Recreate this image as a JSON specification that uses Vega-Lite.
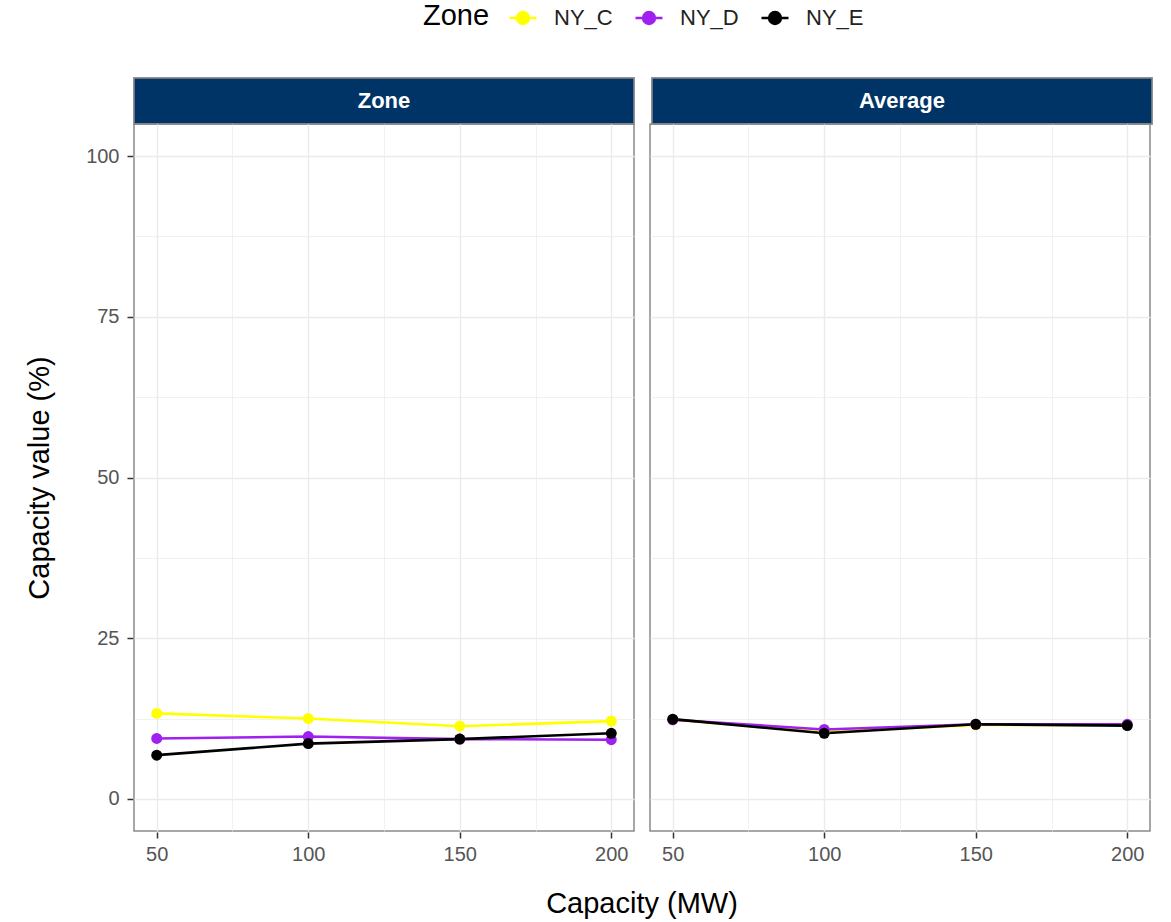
{
  "$schema": "https://vega.github.io/schema/vega-lite/v6.json",
  "background": "white",
  "padding": {"left": 25, "top": 3, "right": 20, "bottom": 0},
  "config": {
    "font": "Liberation Sans",
    "view": {"stroke": "#8a8a8a", "strokeWidth": 1.5},
    "axis": {
      "labelFont": "Liberation Sans",
      "labelFontSize": 20,
      "labelColor": "#555555",
      "tickColor": "#333333",
      "tickSize": 6,
      "tickWidth": 1.5,
      "domain": false,
      "gridColor": "#ebebeb",
      "titleFont": "Liberation Sans",
      "titleFontSize": 29,
      "titleFontWeight": "normal",
      "titleColor": "#000000"
    },
    "header": {"titleFont": "Liberation Sans", "titleFontSize": 29, "titleFontWeight": "normal", "titleColor": "#000000"}
  },
  "bounds": "flush",
  "spacing": 46,
  "vconcat": [
    {
      "data": {"values": [{"panel": "Zone"}, {"panel": "Average"}]},
      "facet": {"column": {"field": "panel", "type": "nominal", "sort": ["Zone", "Average"], "header": {"labels": false, "title": null}}},
      "spacing": 14,
      "resolve": {"scale": {"x": "independent"}},
      "spec": {
        "width": 500,
        "height": 46,
        "layer": [
          {
            "mark": {"type": "rect", "color": "#003466", "stroke": "#8a8a8a", "strokeWidth": 1.5},
            "encoding": {"x": {"field": "panel", "type": "nominal", "axis": null, "scale": {"paddingInner": 0, "paddingOuter": 0}}}
          },
          {
            "mark": {"type": "text", "color": "white", "fontSize": 22, "fontWeight": "bold", "font": "Liberation Sans"},
            "encoding": {"x": {"field": "panel", "type": "nominal", "axis": null}, "text": {"field": "panel"}}
          }
        ]
      }
    },
    {
      "data": {"values": [
        {"panel": "Zone", "zone": "NY_C", "capacity": 50, "value": 13.3},
        {"panel": "Zone", "zone": "NY_C", "capacity": 100, "value": 12.5},
        {"panel": "Zone", "zone": "NY_C", "capacity": 150, "value": 11.3},
        {"panel": "Zone", "zone": "NY_C", "capacity": 200, "value": 12.1},
        {"panel": "Zone", "zone": "NY_D", "capacity": 50, "value": 9.4},
        {"panel": "Zone", "zone": "NY_D", "capacity": 100, "value": 9.7},
        {"panel": "Zone", "zone": "NY_D", "capacity": 150, "value": 9.3},
        {"panel": "Zone", "zone": "NY_D", "capacity": 200, "value": 9.2},
        {"panel": "Zone", "zone": "NY_E", "capacity": 50, "value": 6.8},
        {"panel": "Zone", "zone": "NY_E", "capacity": 100, "value": 8.6},
        {"panel": "Zone", "zone": "NY_E", "capacity": 150, "value": 9.3},
        {"panel": "Zone", "zone": "NY_E", "capacity": 200, "value": 10.2},
        {"panel": "Average", "zone": "NY_C", "capacity": 50, "value": 12.3},
        {"panel": "Average", "zone": "NY_C", "capacity": 100, "value": 10.4},
        {"panel": "Average", "zone": "NY_C", "capacity": 150, "value": 11.5},
        {"panel": "Average", "zone": "NY_C", "capacity": 200, "value": 11.5},
        {"panel": "Average", "zone": "NY_D", "capacity": 50, "value": 12.3},
        {"panel": "Average", "zone": "NY_D", "capacity": 100, "value": 10.8},
        {"panel": "Average", "zone": "NY_D", "capacity": 150, "value": 11.6},
        {"panel": "Average", "zone": "NY_D", "capacity": 200, "value": 11.6},
        {"panel": "Average", "zone": "NY_E", "capacity": 50, "value": 12.4},
        {"panel": "Average", "zone": "NY_E", "capacity": 100, "value": 10.2},
        {"panel": "Average", "zone": "NY_E", "capacity": 150, "value": 11.6},
        {"panel": "Average", "zone": "NY_E", "capacity": 200, "value": 11.4}
      ]},
      "facet": {"column": {"field": "panel", "type": "nominal", "sort": ["Zone", "Average"], "header": {"labels": false, "title": "Capacity (MW)", "titleOrient": "bottom", "titlePadding": 16}}},
      "spacing": 14,
      "spec": {
        "width": 500,
        "height": 707,
        "encoding": {
          "x": {
            "field": "capacity", "type": "quantitative",
            "scale": {"domain": [42.5, 207.5], "nice": false, "zero": false},
            "axis": {
              "title": null,
              "values": [50, 75, 100, 125, 150, 175, 200],
              "labelExpr": "datum.value % 50 === 0 ? datum.label : ''",
              "tickOpacity": {"condition": {"test": "datum.value % 50 === 0", "value": 1}, "value": 0},
              "gridWidth": {"condition": {"test": "datum.value % 50 === 0", "value": 1.4}, "value": 0.7},
              "labelPadding": 6
            }
          },
          "y": {
            "field": "value", "type": "quantitative",
            "scale": {"domain": [-5, 105], "nice": false, "zero": false},
            "axis": {
              "title": "Capacity value (%)",
              "values": [0, 12.5, 25, 37.5, 50, 62.5, 75, 87.5, 100],
              "labelExpr": "datum.value % 25 === 0 ? datum.label : ''",
              "tickOpacity": {"condition": {"test": "datum.value % 25 === 0", "value": 1}, "value": 0},
              "gridWidth": {"condition": {"test": "datum.value % 25 === 0", "value": 1.4}, "value": 0.7},
              "labelPadding": 8,
              "titlePadding": 31
            }
          },
          "color": {
            "field": "zone", "type": "nominal",
            "scale": {"domain": ["NY_C", "NY_D", "NY_E"], "range": ["#FFFF00", "#A020F0", "#000000"]},
            "legend": {
              "title": "Zone",
              "orient": "none",
              "legendX": 289,
              "legendY": -75,
              "direction": "horizontal",
              "titleOrient": "left",
              "titleFontSize": 29,
              "titleFontWeight": "normal",
              "titleColor": "#000000",
              "titlePadding": 18,
              "labelFontSize": 22,
              "labelColor": "#222222",
              "labelOffset": 16,
              "symbolType": "M-1,0L1,0M-0.44,0A0.44,0.44,0,1,1,0.44,0A0.44,0.44,0,1,1,-0.44,0",
              "symbolSize": 729,
              "symbolStrokeWidth": 2.5,
              "columnPadding": 17
            }
          }
        },
        "layer": [
          {"mark": {"type": "line", "strokeWidth": 2.6}},
          {"mark": {"type": "point", "filled": true, "size": 120, "opacity": 1}}
        ]
      }
    }
  ]
}
